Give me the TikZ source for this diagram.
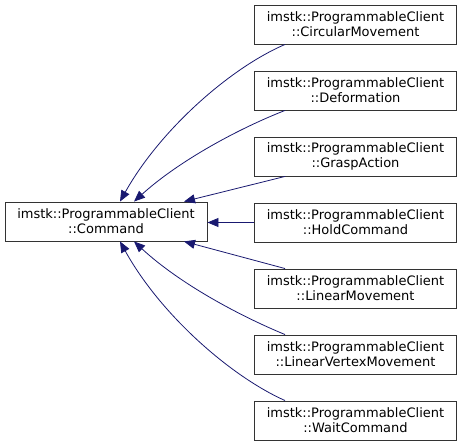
\documentclass[tikz,border=0pt]{standalone}
\usepackage{fontspec}
\setmainfont{DejaVu Sans}
\usetikzlibrary{arrows.meta}
\definecolor{edgeblue}{HTML}{191970}
\tikzset{
  cls/.style={draw=black!80, line width=0.9pt, fill=white, rectangle, minimum width=202pt, minimum height=39pt, inner sep=0pt, align=center, font=\fontsize{13}{15}\selectfont},
  inh/.style={draw=edgeblue, line width=0.8pt, -{Triangle[length=11pt,width=9pt]}},
}
\begin{document}
\begin{tikzpicture}[x=1pt,y=-1pt]
\useasboundingbox (0,0) rectangle (461,444);
\node[cls] (cmd) at (106,221.5) {imstk::ProgrammableClient\\::Command};
\node[cls] (c1) at (355.5,24.5) {imstk::ProgrammableClient\\::CircularMovement};
\node[cls] (c2) at (355.5,90.5) {imstk::ProgrammableClient\\::Deformation};
\node[cls] (c3) at (355.5,156.5) {imstk::ProgrammableClient\\::GraspAction};
\node[cls] (c4) at (355.5,222.5) {imstk::ProgrammableClient\\::HoldCommand};
\node[cls] (c5) at (355.5,288.5) {imstk::ProgrammableClient\\::LinearMovement};
\node[cls] (c6) at (355.5,354.5) {imstk::ProgrammableClient\\::LinearVertexMovement};
\node[cls] (c7) at (355.5,420.5) {imstk::ProgrammableClient\\::WaitCommand};
\draw[inh] ([xshift=31pt]c1.south west) .. controls (230,68) and (160,130) .. ([xshift=14pt]cmd.north);
\draw[inh] ([xshift=31pt]c2.south west) .. controls (240,128) and (180,160) .. ([xshift=28pt]cmd.north);
\draw[inh] ([xshift=31pt]c3.south west) -- ([xshift=78pt]cmd.north);
\draw[inh] (c4.west) -- (c4.west -| cmd.east);
\draw[inh] ([xshift=31pt]c5.north west) -- ([xshift=78pt]cmd.south);
\draw[inh] ([xshift=31pt]c6.north west) .. controls (240,316) and (180,284) .. ([xshift=28pt]cmd.south);
\draw[inh] ([xshift=31pt]c7.north west) .. controls (230,376) and (160,314) .. ([xshift=14pt]cmd.south);
\end{tikzpicture}
\end{document}
